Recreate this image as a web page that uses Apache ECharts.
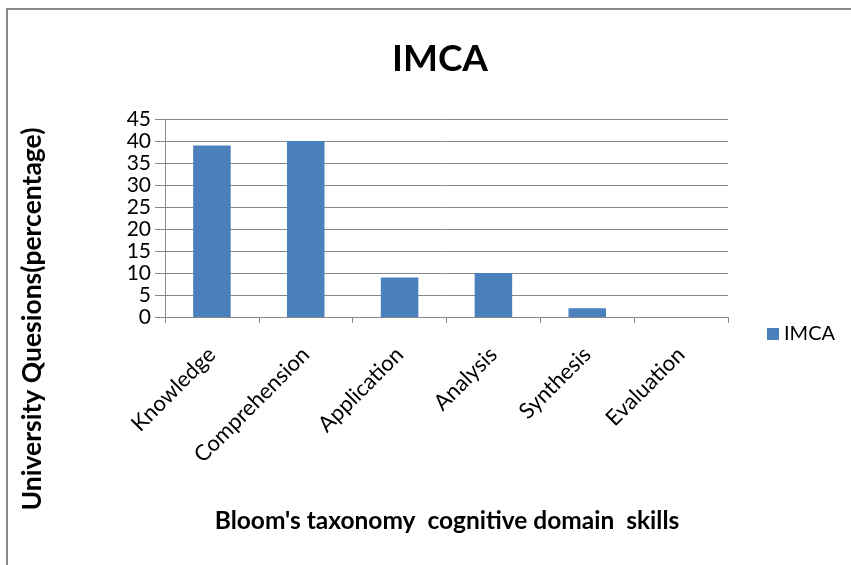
<!DOCTYPE html>
<html>
<head>
<meta charset="utf-8">
<script src="https://cdn.jsdelivr.net/npm/echarts@6/dist/echarts.min.js"></script>
<style>
	html, body { margin: 0; padding: 0; background: #fff; }
	#main { width: 851px; height: 565px; }
</style>
</head>
<body>
<div id="main"></div>
<script>
	var categories = ['Knowledge', 'Comprehension', 'Application', 'Analysis', 'Synthesis', 'Evaluation'];
	var imcaValues = [39, 40, 9, 10, 2, 0];
	var seriesName = 'IMCA';
	var yTitle = 'University Quesions(percentage)';
	var xTitle = "Bloom's taxonomy  cognitive domain  skills";

	var font = 'Lato, "Open Sans", sans-serif';
	var myChart = echarts.init(document.getElementById('main'));

	var option = {
		backgroundColor: '#fff',
		animation: false,
		textStyle: { fontFamily: font },
		title: {
			text: seriesName,
			left: 435,
			textAlign: 'center',
			top: 36,
			textStyle: { fontSize: 37, fontWeight: 'bold', color: '#000', fontFamily: font }
		},
		legend: {
			data: [seriesName],
			left: 762,
			top: 319,
			itemWidth: 12,
			itemHeight: 12,
			icon: 'rect',
			itemGap: 5,
			textStyle: { fontSize: 20, color: '#000', fontFamily: font }
		},
		grid: {
			left: 165,
			right: 123,
			top: 119,
			bottom: 248,
			containLabel: false
		},
		xAxis: {
			type: 'category',
			data: categories,
			axisLine: { lineStyle: { color: '#888', width: 1 } },
			axisTick: { show: true, length: 6, lineStyle: { color: '#888' } },
			axisLabel: { rotate: 45, fontSize: 22, color: '#000', margin: 34, fontFamily: font }
		},
		yAxis: {
			type: 'value',
			min: 0,
			max: 45,
			interval: 5,
			axisLine: { show: true, lineStyle: { color: '#888', width: 1 } },
			axisTick: { show: true, length: 10, lineStyle: { color: '#888' } },
			splitLine: { lineStyle: { color: '#888', width: 1 } },
			axisLabel: { fontSize: 21, color: '#000', margin: 14, fontFamily: font }
		},
		graphic: [
			{
				type: 'polyline',
				shape: { points: [[7, 600], [7, 9], [860, 9]] },
				style: { stroke: '#888', lineWidth: 2, fill: null },
				silent: true
			},
			{
				type: 'text',
				x: 32,
				y: 319,
				rotation: Math.PI / 2,
				style: {
					text: yTitle,
					fontSize: 26.5,
					fontWeight: 'bold',
					fontFamily: font,
					fill: '#000',
					align: 'center',
					verticalAlign: 'middle'
				}
			},
			{
				type: 'text',
				x: 447,
				y: 521,
				style: {
					text: xTitle,
					fontSize: 24.5,
					fontWeight: 'bold',
					fontFamily: font,
					fill: '#000',
					align: 'center',
					verticalAlign: 'middle'
				}
			}
		],
		series: [{
			name: seriesName,
			type: 'bar',
			data: imcaValues,
			barWidth: '40%',
			itemStyle: { color: '#4a81bd' }
		}]
	};

	myChart.setOption(option);
</script>
</body>
</html>
